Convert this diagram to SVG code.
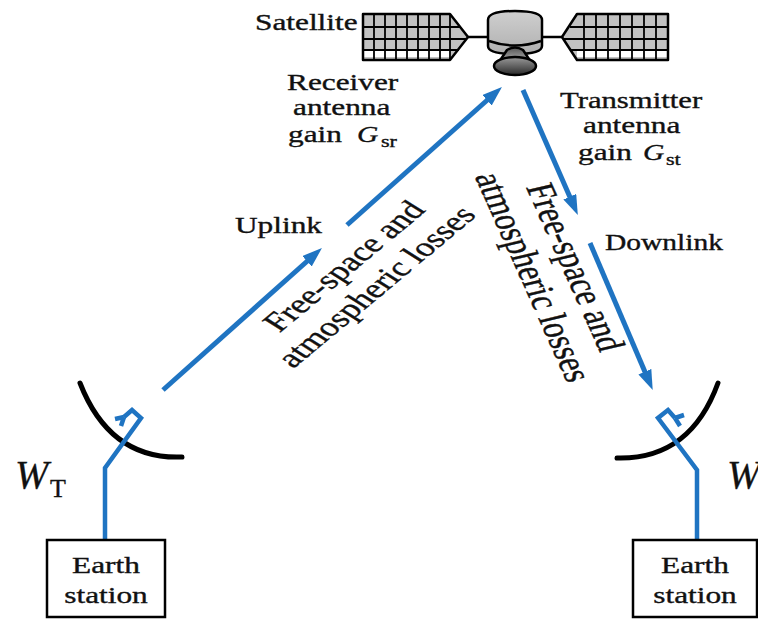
<svg xmlns="http://www.w3.org/2000/svg" width="758" height="621" viewBox="0 0 758 621">
  <style>
    .lbl { font-family: "Liberation Serif", "Times New Roman", serif; font-size: 22.7px; fill: #111; stroke: #111; stroke-width: 0.35px; }
    .it { font-style: italic; }
    .sub { font-size: 16px; }
    .rot { font-size: 27px; }
    .rot2 { font-size: 29px; }
    .beam { stroke: #1f74c2; stroke-width: 5; fill: none; marker-end: url(#arrow); }
    .feed { stroke: #1f74c2; stroke-width: 4.5; fill: none; stroke-linejoin: miter; }
    .dish { stroke: #000; stroke-width: 5; fill: none; stroke-linecap: round; }
    .box { fill: #fff; stroke: #000; stroke-width: 2.5; }
    .panel { fill: #c2c2c2; }
    .outline { fill: none; stroke: #000; stroke-width: 2.5; stroke-linejoin: round; }
    .grid { stroke: #000; stroke-width: 1.8; }
    .sat { stroke: #000; stroke-width: 2.5; }
  </style>
  <defs>
    <marker id="arrow" markerUnits="userSpaceOnUse" markerWidth="22" markerHeight="16" refX="8" refY="7" orient="auto">
      <path d="M0,0 L20,7 L0,14 Z" fill="#1f74c2"/>
    </marker>
    <linearGradient id="dishFill" x1="0" y1="0" x2="0" y2="1">
      <stop offset="0" stop-color="#9a9a9a"/>
      <stop offset="1" stop-color="#2a2a2a"/>
    </linearGradient>
    <linearGradient id="coneFill" x1="0" y1="0" x2="0" y2="1">
      <stop offset="0" stop-color="#555"/>
      <stop offset="1" stop-color="#b5b5b5"/>
    </linearGradient>
    <linearGradient id="bodyFill" x1="0" y1="0" x2="0" y2="1">
      <stop offset="0" stop-color="#cfcfcf"/>
      <stop offset="1" stop-color="#b0b0b0"/>
    </linearGradient>
  </defs>

  <!-- Satellite -->
  <g id="satellite">
    <line class="sat" x1="468" y1="37" x2="488" y2="37"/>
    <line class="sat" x1="542" y1="37" x2="562" y2="37"/>
    <!-- left solar panel -->
    <polygon class="panel" points="363,14 450,14 468,37 450,60 363,60"/>
    <rect x="364" y="51" width="87" height="6" fill="#fff"/>
    <g class="grid">
      <line x1="374" y1="14" x2="374" y2="60"/>
      <line x1="385" y1="14" x2="385" y2="60"/>
      <line x1="396" y1="14" x2="396" y2="60"/>
      <line x1="407" y1="14" x2="407" y2="60"/>
      <line x1="418" y1="14" x2="418" y2="60"/>
      <line x1="429" y1="14" x2="429" y2="60"/>
      <line x1="440" y1="14" x2="440" y2="60"/>
      <line x1="450" y1="14" x2="450" y2="60"/>
      <line x1="363" y1="27" x2="460" y2="27"/>
      <line x1="363" y1="39" x2="467" y2="39"/>
      <line x1="363" y1="50" x2="459" y2="50"/>
    </g>
    <polygon class="outline" points="363,14 450,14 468,37 450,60 363,60"/>
    <!-- right solar panel -->
    <polygon class="panel" points="562,37 577,14 668,14 668,60 577,60"/>
    <rect x="577" y="51" width="90" height="6" fill="#fff"/>
    <g class="grid">
      <line x1="584" y1="14" x2="584" y2="60"/>
      <line x1="596" y1="14" x2="596" y2="60"/>
      <line x1="608" y1="14" x2="608" y2="60"/>
      <line x1="620" y1="14" x2="620" y2="60"/>
      <line x1="632" y1="14" x2="632" y2="60"/>
      <line x1="644" y1="14" x2="644" y2="60"/>
      <line x1="656" y1="14" x2="656" y2="60"/>
      <line x1="570" y1="27" x2="668" y2="27"/>
      <line x1="563" y1="39" x2="668" y2="39"/>
      <line x1="570" y1="50" x2="668" y2="50"/>
    </g>
    <polygon class="outline" points="562,37 577,14 668,14 668,60 577,60"/>
    <!-- body -->
    <path class="sat" d="M488,20 Q488,11 515,11 Q542,11 542,20 L542,46 Q542,54 515,54 Q488,54 488,46 Z" fill="url(#bodyFill)"/>
    <path class="sat" d="M489,41 Q515,50 541,41" fill="none" stroke-width="1.8"/>
    <!-- feed cone and dish -->
    <path class="sat" d="M499,62 L507,50 Q515,45 523,50 L531,62 Z" fill="url(#coneFill)" stroke-width="2"/>
    <ellipse class="sat" cx="515" cy="66" rx="21" ry="9" fill="url(#dishFill)"/>
  </g>

  <!-- Ground antennas -->
  <g id="antenna-left">
    <path class="dish" d="M80,383 Q110,460 182,457"/>
    <polyline class="feed" points="105,540 105,468 141,418 132,410 124,417"/>
    <path class="feed" d="M124,417 L115,419 M124,417 L121,426" stroke-width="3"/>
  </g>
  <g id="antenna-right">
    <path class="dish" d="M617,458 Q690,460 718,383"/>
    <polyline class="feed" points="697,540 697,470 658,418 668,410 675,418"/>
    <path class="feed" d="M675,418 L684,415 M675,418 L680,426" stroke-width="3"/>
  </g>

  <!-- Earth stations -->
  <g id="earth-station-left">
    <rect class="box" x="47" y="540" width="118" height="77"/>
    <g transform="translate(106,573) scale(1.38,1)"><text class="lbl" text-anchor="middle">Earth</text></g>
    <g transform="translate(106,603) scale(1.38,1)"><text class="lbl" text-anchor="middle">station</text></g>
  </g>
  <g id="earth-station-right">
    <rect class="box" x="633" y="540" width="124" height="77"/>
    <g transform="translate(695,573) scale(1.38,1)"><text class="lbl" text-anchor="middle">Earth</text></g>
    <g transform="translate(695,603) scale(1.38,1)"><text class="lbl" text-anchor="middle">station</text></g>
  </g>

  <!-- Links -->
  <g id="connectors">
    <line class="beam" x1="163" y1="390" x2="313" y2="256"/>
    <line class="beam" x1="347" y1="225" x2="493" y2="95"/>
    <line class="beam" x1="523" y1="90" x2="573" y2="204"/>
    <line class="beam" x1="590" y1="243" x2="648" y2="379"/>
  </g>

  <!-- Labels -->
  <g id="labels">
    <g transform="translate(255,30) scale(1.38,1)"><text class="lbl">Satellite</text></g>
    <g transform="translate(287,90) scale(1.38,1)"><text class="lbl">Receiver</text></g>
    <g transform="translate(293,115) scale(1.38,1)"><text class="lbl">antenna</text></g>
    <g transform="translate(288,142) scale(1.38,1)"><text class="lbl">gain</text></g>
    <g transform="translate(357,142) scale(1.3,1)"><text class="lbl it">G</text></g>
    <g transform="translate(381,147) scale(1.38,1)"><text class="lbl sub">sr</text></g>

    <g transform="translate(560,108) scale(1.38,1)"><text class="lbl" textLength="103" lengthAdjust="spacingAndGlyphs">Transmitter</text></g>
    <g transform="translate(583,133) scale(1.38,1)"><text class="lbl">antenna</text></g>
    <g transform="translate(578,160) scale(1.38,1)"><text class="lbl">gain</text></g>
    <g transform="translate(643,160) scale(1.3,1)"><text class="lbl it">G</text></g>
    <g transform="translate(666,165) scale(1.38,1)"><text class="lbl sub">st</text></g>

    <g transform="translate(235,233) scale(1.38,1)"><text class="lbl">Uplink</text></g>
    <g transform="translate(605,250) scale(1.38,1)"><text class="lbl" textLength="85.5" lengthAdjust="spacingAndGlyphs">Downlink</text></g>

    <g transform="translate(353,272) scale(1.38,1) rotate(-49)">
      <text class="lbl rot" text-anchor="middle">Free-space and</text>
      <text class="lbl rot" text-anchor="middle" y="31">atmospheric losses</text>
    </g>
    <g transform="translate(563,270) scale(1.38,1) rotate(72)">
      <text class="lbl rot2" text-anchor="middle">Free-space and</text>
      <text class="lbl rot2" text-anchor="middle" y="32">atmospheric losses</text>
    </g>

    <text class="lbl it" x="15" y="488" style="font-size:40px">W</text>
    <text class="lbl" x="50" y="497" style="font-size:26px">T</text>
    <text class="lbl it" x="727" y="488" style="font-size:40px">W</text>
  </g>
</svg>
